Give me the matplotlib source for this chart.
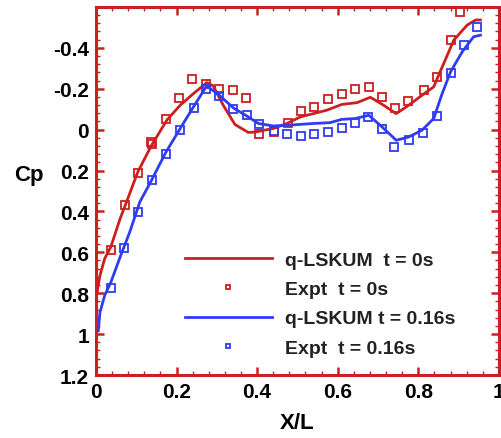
import matplotlib.pyplot as plt
from matplotlib.ticker import MultipleLocator, FuncFormatter

# q-LSKUM, t = 0s
x_red = [0.002, 0.01, 0.022, 0.037, 0.06, 0.076, 0.104, 0.138, 0.176, 0.209, 0.242,
         0.275, 0.291, 0.316, 0.345, 0.378, 0.395, 0.42, 0.44, 0.474, 0.507, 0.573,
         0.61, 0.648, 0.681, 0.714, 0.745, 0.776, 0.809, 0.838, 0.863, 0.888, 0.921,
         0.942, 0.954]
cp_red = [0.81, 0.714, 0.63, 0.574, 0.436, 0.354, 0.207, 0.077, -0.046, -0.119, -0.176,
          -0.23, -0.214, -0.119, -0.025, 0.014, 0.012, 0.002, -0.005, -0.03, -0.062, -0.095,
          -0.123, -0.132, -0.158, -0.119, -0.078, -0.119, -0.168, -0.209, -0.324, -0.438, -0.511,
          -0.536, -0.536]

# q-LSKUM, t = 0.16s
x_blue = [0.006, 0.01, 0.022, 0.037, 0.06, 0.084, 0.109, 0.138, 0.173, 0.209, 0.242,
          0.275, 0.308, 0.341, 0.374, 0.403, 0.44, 0.474, 0.54, 0.581, 0.61, 0.643,
          0.677, 0.71, 0.745, 0.776, 0.809, 0.838, 0.859, 0.88, 0.909, 0.937, 0.954]
cp_blue = [0.984, 0.894, 0.81, 0.747, 0.624, 0.501, 0.354, 0.248, 0.113, -0.005, -0.111,
           -0.214, -0.165, -0.106, -0.067, -0.03, -0.018, -0.021, -0.03, -0.034, -0.05, -0.054,
           -0.07, -0.013, 0.052, 0.036, 0.003, -0.054, -0.176, -0.283, -0.381, -0.454, -0.462]

# Expt, t = 0s
xe_red = [0.037, 0.071, 0.104, 0.136, 0.14, 0.173, 0.206, 0.238, 0.273, 0.306, 0.341,
          0.372, 0.405, 0.442, 0.476, 0.508, 0.542, 0.575, 0.61, 0.642, 0.677, 0.71,
          0.741, 0.774, 0.813, 0.845, 0.88, 0.904]
cpe_red = [0.587, 0.368, 0.212, 0.06, 0.068, -0.05, -0.155, -0.248, -0.225, -0.2, -0.193,
           -0.155, 0.02, 0.01, -0.03, -0.09, -0.11, -0.15, -0.176, -0.2, -0.207, -0.158,
           -0.106, -0.14, -0.196, -0.255, -0.436, -0.577]

# Expt, t = 0.16s
xe_blue = [0.037, 0.07, 0.105, 0.138, 0.173, 0.209, 0.243, 0.273, 0.306, 0.341, 0.374,
           0.405, 0.442, 0.474, 0.508, 0.542, 0.577, 0.61, 0.642, 0.675, 0.71, 0.74,
           0.776, 0.811, 0.845, 0.88, 0.913, 0.946]
cpe_blue = [0.775, 0.577, 0.404, 0.248, 0.121, 0.003, -0.108, -0.2, -0.163, -0.103, -0.07,
            -0.025, 0.007, 0.023, 0.033, 0.023, 0.011, -0.01, -0.033, -0.062, -0.005, 0.085,
            0.049, 0.016, -0.067, -0.275, -0.413, -0.5]

red = '#cc1f1f'
blue = '#2f3cf0'

plt.rcParams['font.family'] = ['Liberation Sans', 'DejaVu Sans']
plt.rcParams['font.weight'] = 'bold'

fig = plt.figure(figsize=(5.02, 4.39), dpi=100)
ax = fig.add_axes([0.191, 0.1435, 0.803, 0.8385])

ax.plot(x_red, cp_red, color=red, lw=2, label='q-LSKUM  t = 0s')
ax.plot(xe_red, cpe_red, ls='none', marker='s', ms=5.5, mfc='none', mec=red, mew=1.3,
        label='Expt  t = 0s')
ax.plot(x_blue, cp_blue, color=blue, lw=2, label='q-LSKUM t = 0.16s')
ax.plot(xe_blue, cpe_blue, ls='none', marker='s', ms=5.5, mfc='none', mec=blue, mew=1.3,
        label='Expt  t = 0.16s')

ax.set_xlim(0, 1)
ax.set_ylim(1.2, -0.6)
ax.xaxis.set_major_locator(MultipleLocator(0.2))
ax.xaxis.set_minor_locator(MultipleLocator(0.04))
ax.yaxis.set_major_locator(MultipleLocator(0.2))
ax.yaxis.set_minor_locator(MultipleLocator(0.04))

def fmt(v, pos):
    if abs(v) < 1e-9:
        return '0'
    if v < -0.5:
        return ''
    return '%g' % round(v, 2)

ax.xaxis.set_major_formatter(FuncFormatter(fmt))
ax.yaxis.set_major_formatter(FuncFormatter(fmt))

for s in ax.spines.values():
    s.set_color(red)
    s.set_linewidth(2.2)
ax.tick_params(which='both', direction='in', top=True, right=True, color=red,
               labelsize=15, pad=5)
ax.tick_params(which='major', length=6, width=1.8)
ax.tick_params(which='minor', length=3, width=1)

ax.set_xlabel('X/L', fontsize=16, fontweight='bold', labelpad=8)
ax.set_ylabel('Cp', fontsize=16, fontweight='bold', rotation=0, va='center', ha='center')
ax.yaxis.set_label_coords(-0.166, 0.545)

leg = ax.legend(loc='lower left', bbox_to_anchor=(0.22, 0.05), frameon=False,
                fontsize=14, handlelength=4.5, handletextpad=0.65, labelspacing=0.6,
                borderpad=0, borderaxespad=0, numpoints=1)
for t in leg.get_texts():
    t.set_fontweight('bold')
    t.set_color('#222222')
for h in leg.legend_handles:
    h.set_markersize(3.5)

fig.savefig('out.png', dpi=100)
